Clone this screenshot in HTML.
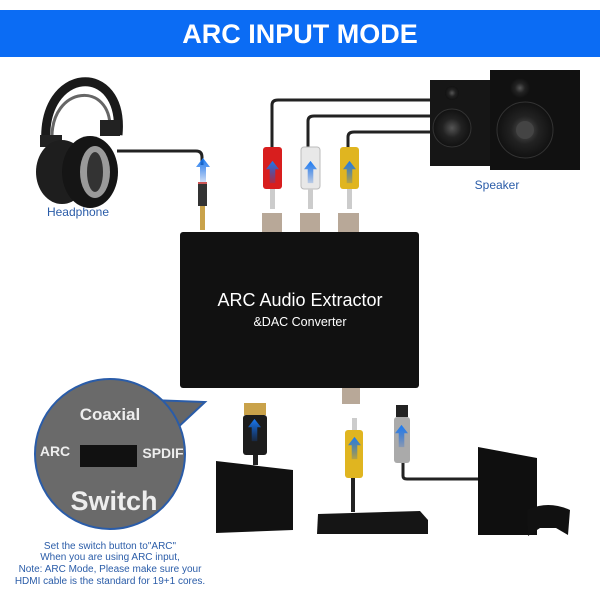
<!DOCTYPE html>
<html><head><meta charset="utf-8"><style>
html,body{margin:0;padding:0;background:#fff;width:600px;height:600px;overflow:hidden}
</style></head><body>
<svg width="600" height="600" viewBox="0 0 600 600" xmlns="http://www.w3.org/2000/svg" font-family="Liberation Sans, sans-serif">
<defs>
<radialGradient id="cone" cx="50%" cy="50%" r="50%"><stop offset="0" stop-color="#555"/><stop offset="0.5" stop-color="#222"/><stop offset="1" stop-color="#111"/></radialGradient>
<linearGradient id="arr" x1="0" y1="1" x2="0" y2="0"><stop offset="0" stop-color="#0a5bd8" stop-opacity="0.2"/><stop offset="1" stop-color="#1a7cf5"/></linearGradient>
<symbol id="up" viewBox="0 0 14 24"><path d="M7 0 L14 9 H10 V24 H4 V9 H0 Z" fill="url(#arr)"/></symbol>
</defs>
<!-- header -->
<rect x="0" y="10" width="600" height="47" fill="#0b6cf4"/>
<text x="300" y="43" text-anchor="middle" fill="#fff" font-size="27" font-weight="bold">ARC INPUT MODE</text>

<!-- headphones -->
<path d="M46 145 C40 65 125 60 118 135" fill="none" stroke="#1a1a1a" stroke-width="9"/>
<path d="M52 140 C50 85 112 80 110 130" fill="none" stroke="#666" stroke-width="3"/>
<rect x="40" y="135" width="22" height="12" fill="#222"/>
<rect x="100" y="120" width="20" height="16" fill="#222"/>
<ellipse cx="62" cy="172" rx="26" ry="32" fill="#1e1e1e"/>
<ellipse cx="90" cy="172" rx="28" ry="36" fill="#151515"/>
<ellipse cx="95" cy="172" rx="15" ry="26" fill="#9a9a9a"/>
<ellipse cx="95" cy="172" rx="8" ry="20" fill="#333"/>
<path d="M117 151 H196 Q202 151 202 157 V165" fill="none" stroke="#222" stroke-width="3"/>
<text x="78" y="216" text-anchor="middle" fill="#2a5ca8" font-size="12">Headphone</text>
<!-- headphone plug -->
<rect x="198" y="182" width="9" height="24" fill="#333"/>
<rect x="198" y="182" width="9" height="2" fill="#c55"/>
<rect x="200" y="206" width="5" height="24" fill="#c9a24a"/>
<use href="#up" x="196" y="158" width="14" height="24"/>

<!-- speaker cables -->
<path d="M272 150 V105 Q272 100 278 100 H435" fill="none" stroke="#222" stroke-width="3"/>
<path d="M308 150 V121 Q308 116 314 116 H435" fill="none" stroke="#222" stroke-width="3"/>
<path d="M348 150 V137 Q348 132 354 132 H435" fill="none" stroke="#222" stroke-width="3"/>
<!-- speakers -->
<rect x="430" y="80" width="66" height="86" fill="#161616"/>
<circle cx="452" cy="93" r="7" fill="url(#cone)"/>
<circle cx="452" cy="128" r="19" fill="url(#cone)" stroke="#333"/>
<rect x="490" y="70" width="90" height="100" fill="#111"/>
<circle cx="520" cy="88" r="10" fill="url(#cone)"/>
<circle cx="525" cy="130" r="28" fill="url(#cone)" stroke="#333"/>
<circle cx="525" cy="130" r="9" fill="#444"/>
<text x="497" y="189" text-anchor="middle" fill="#2a5ca8" font-size="12">Speaker</text>

<!-- RCA plugs -->
<rect x="263" y="147" width="19" height="42" rx="3" fill="#d81e1e"/>
<rect x="301" y="147" width="19" height="42" rx="3" fill="#e8e8e8" stroke="#bbb"/>
<rect x="340" y="147" width="19" height="42" rx="3" fill="#e0b520"/>
<rect x="270" y="189" width="5" height="20" fill="#ccc"/>
<rect x="308" y="189" width="5" height="20" fill="#ccc"/>
<rect x="347" y="189" width="5" height="20" fill="#ccc"/>
<use href="#up" x="266" y="160" width="13" height="24"/>
<use href="#up" x="304" y="160" width="13" height="24"/>
<use href="#up" x="343" y="160" width="13" height="24"/>
<rect x="262" y="213" width="20" height="20" fill="#b8a898"/>
<rect x="300" y="213" width="20" height="20" fill="#b8a898"/>
<rect x="338" y="213" width="21" height="20" fill="#b8a898"/>

<!-- device -->
<rect x="180" y="232" width="239" height="156" rx="3" fill="#111"/>
<text x="300" y="306" text-anchor="middle" fill="#fff" font-size="18">ARC Audio Extractor</text>
<text x="300" y="326" text-anchor="middle" fill="#fff" font-size="12.5">&amp;DAC Converter</text>
<rect x="342" y="388" width="18" height="16" fill="#b8a898"/>

<!-- switch bubble -->
<path d="M150 400 L205 402 L175 430 Z" fill="#666" stroke="#2a5ca8" stroke-width="2"/>
<circle cx="110" cy="454" r="75" fill="#6a6a6a" stroke="#2a5ca8" stroke-width="2"/>
<text x="110" y="420" text-anchor="middle" fill="#eee" font-size="17" font-weight="bold">Coaxial</text>
<text x="55" y="456" text-anchor="middle" fill="#eee" font-size="14" font-weight="bold">ARC</text>
<text x="163" y="458" text-anchor="middle" fill="#eee" font-size="14" font-weight="bold">SPDIF</text>
<rect x="80" y="445" width="57" height="22" fill="#111"/>
<text x="114" y="510" text-anchor="middle" fill="#eee" font-size="27" font-weight="bold">Switch</text>
<g fill="#2a5ca8" font-size="10" text-anchor="middle">
<text x="110" y="549">Set the switch button to"ARC"</text>
<text x="110" y="560">When you are using ARC input,</text>
<text x="110" y="572">Note: ARC Mode, Please make sure your</text>
<text x="110" y="584">HDMI cable is the standard for 19+1 cores.</text>
</g>

<!-- HDMI + TV -->
<rect x="244" y="403" width="22" height="12" fill="#c9a24a"/>
<rect x="243" y="415" width="24" height="40" rx="3" fill="#1c1c1c"/>
<use href="#up" x="248" y="418" width="13" height="24"/>
<rect x="253" y="455" width="5" height="10" fill="#222"/>
<path d="M216 461 L293 470 V530 L216 533 Z" fill="#111"/>
<!-- coax -->
<rect x="352" y="418" width="5" height="14" fill="#ccc"/>
<rect x="345" y="430" width="18" height="48" rx="3" fill="#e0b520"/>
<use href="#up" x="348" y="436" width="13" height="24"/>
<rect x="351" y="478" width="4" height="34" fill="#222"/>
<path d="M318 514 L420 511 L428 520 V534 H317 Z" fill="#151515"/>
<!-- optical -->
<rect x="396" y="405" width="12" height="12" fill="#222"/>
<rect x="394" y="417" width="16" height="46" rx="3" fill="#aaa"/>
<use href="#up" x="395" y="424" width="13" height="24"/>
<path d="M403 463 V476 Q403 479 407 479 H480" fill="none" stroke="#222" stroke-width="3"/>
<!-- PS4 -->
<path d="M478 447 L537 458 V535 H478 Z" fill="#0f0f0f"/>
<path d="M527 510 Q548 500 570 510 L568 535 L556 528 H540 L528 536 Z" fill="#111"/>
</svg>
</body></html>
